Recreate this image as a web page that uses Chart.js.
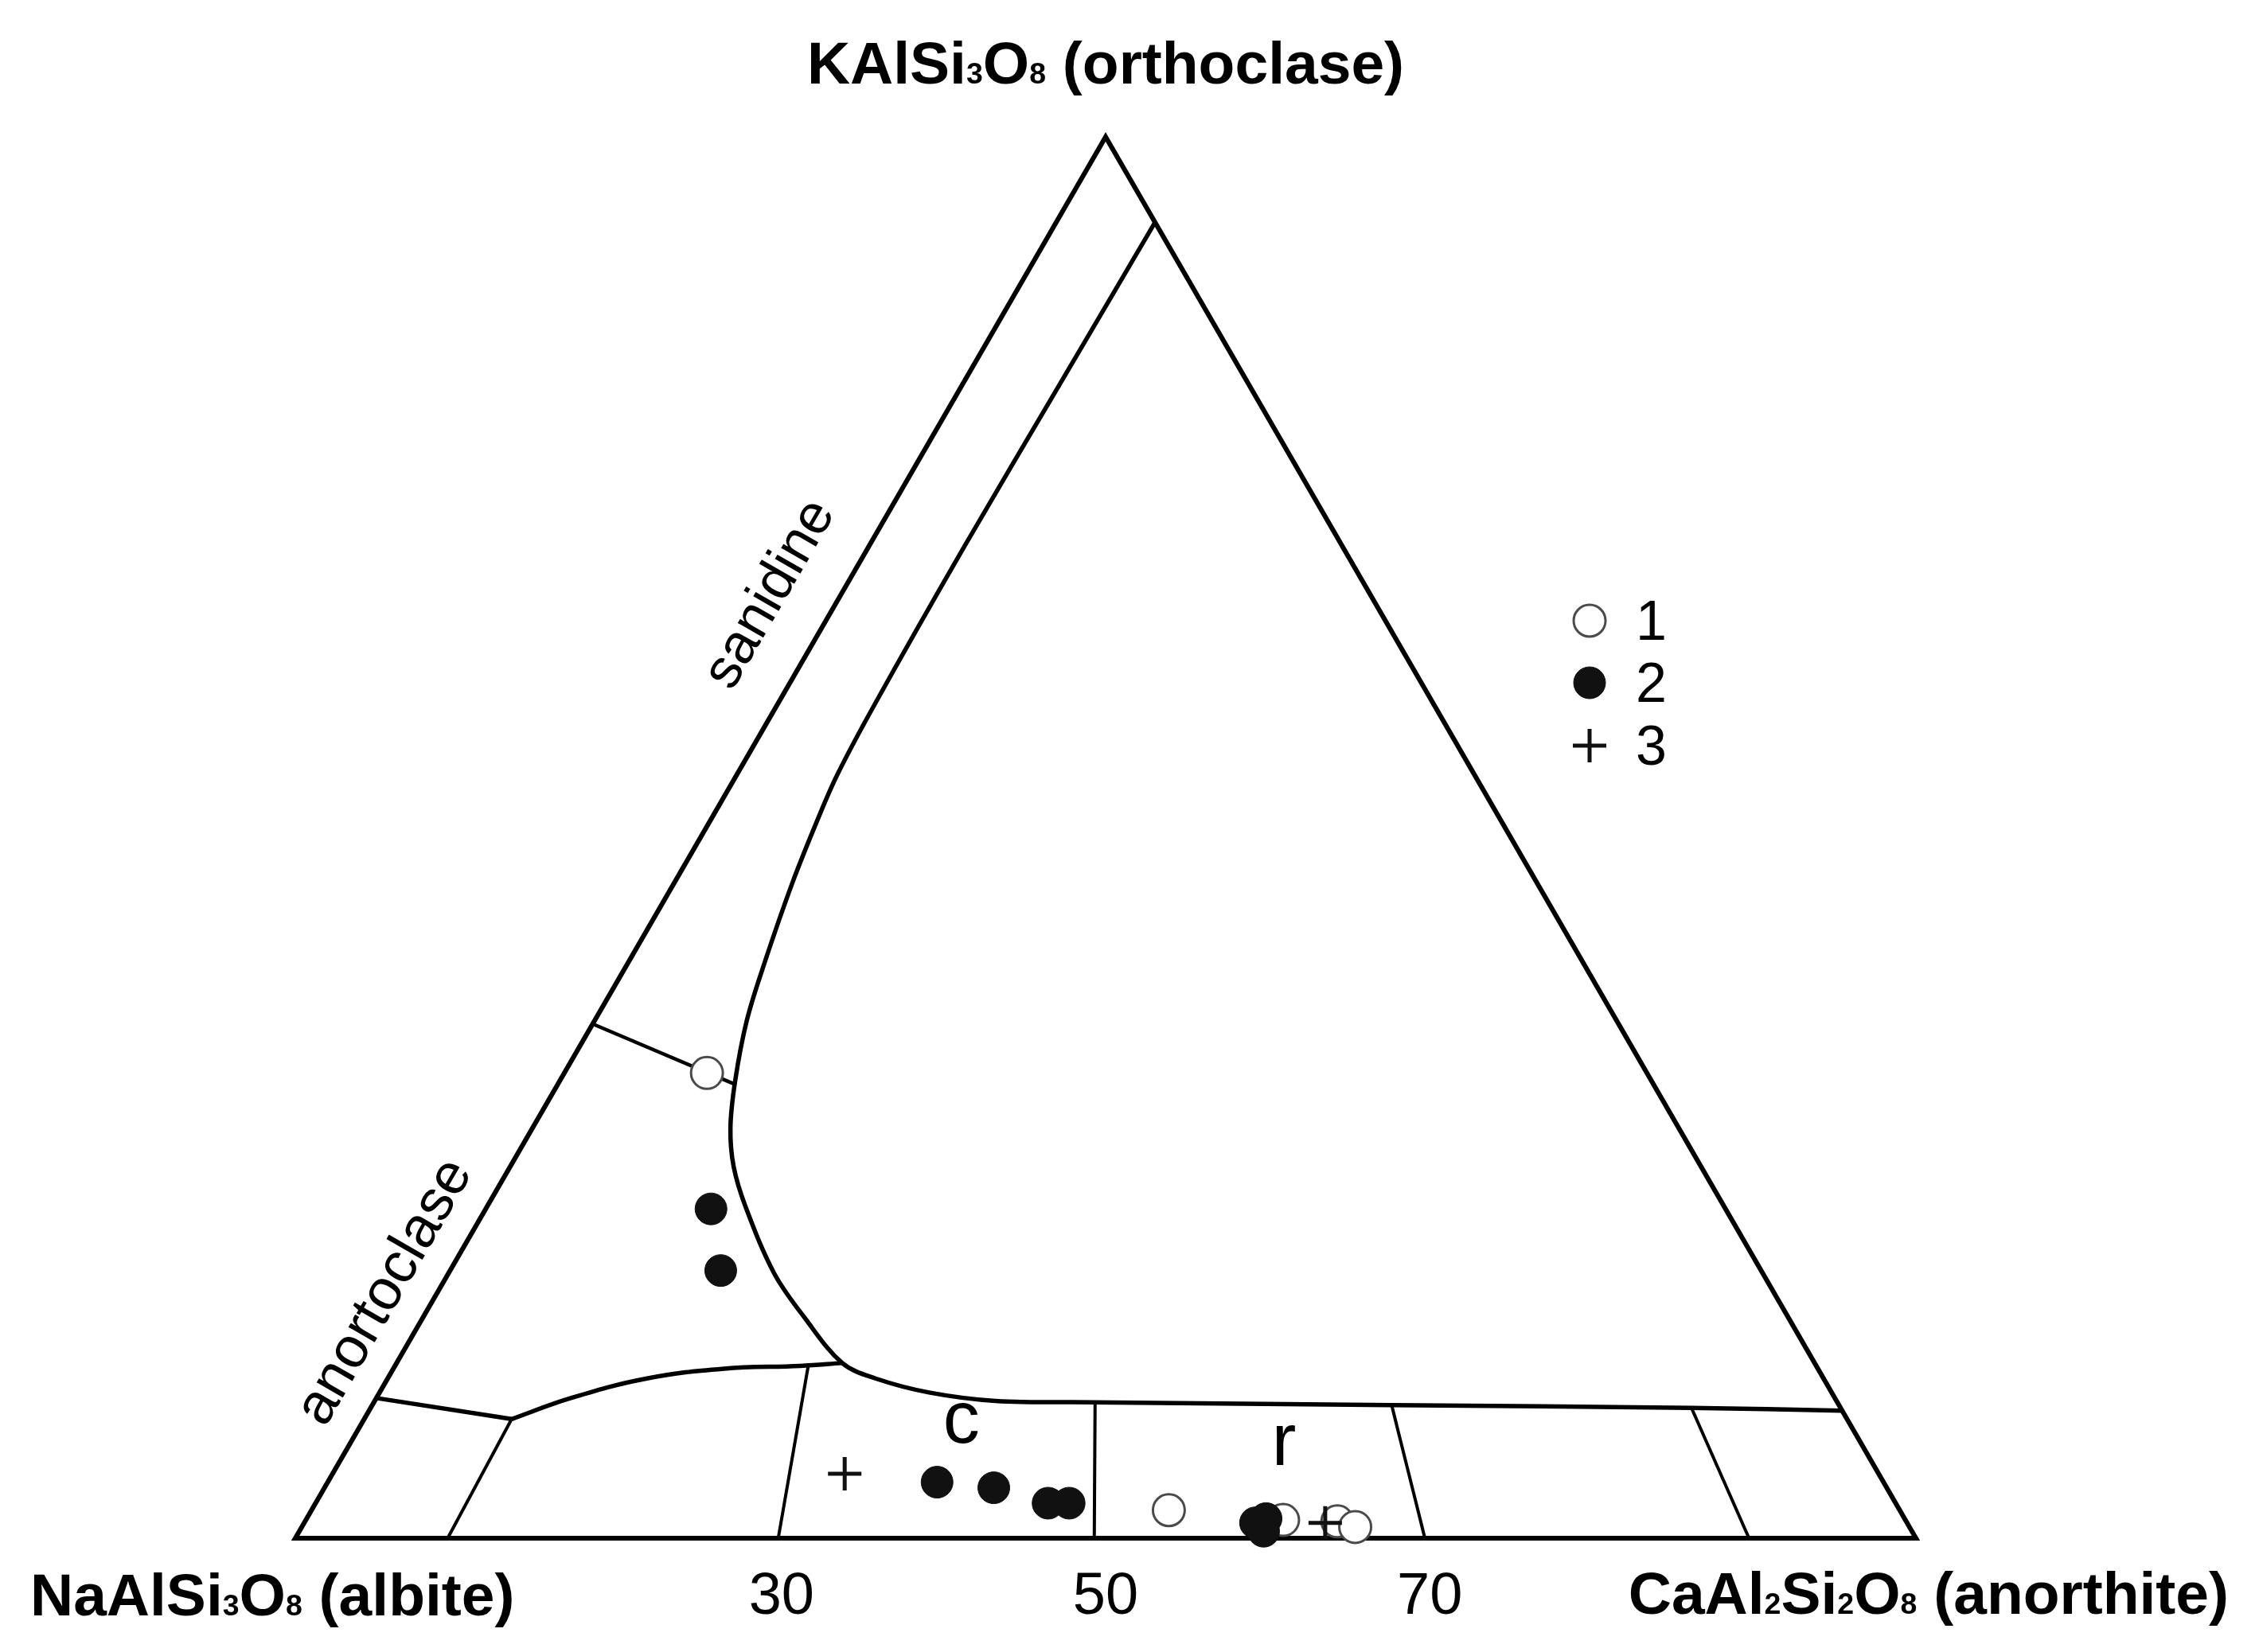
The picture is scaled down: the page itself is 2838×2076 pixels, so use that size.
<!DOCTYPE html>
<html>
<head>
<meta charset="utf-8">
<script src="https://cdn.jsdelivr.net/npm/chart.js@4/dist/chart.umd.min.js"></script>
<style>
  html, body { margin: 0; padding: 0; background: #ffffff; }
  #wrap { width: 2838px; height: 2076px; }
</style>
</head>
<body>
<div id="wrap"><canvas id="chart" width="2838" height="2076"></canvas></div>
<script>
// ---------- DATA (ternary compositions, mol %: An = anorthite, Or = orthoclase, Ab = 100 - An - Or) ----------
const vertexLabels = ['KAlSi₃O₈ (orthoclase)', 'NaAlSi₃O₈ (albite)', 'CaAl₂Si₂O₈ (anorthite)'];
const fieldLabels = ['sanidine', 'anortoclase', 'c', 'r'];
const seriesLabels = ['1', '2', '3'];
const anorthiteTickValues = [30, 50, 70];

// series 1 (open circles)
const s1An = [8.8, 52.9, 60.3, 63.7, 65.0];
const s1Or = [33.2, 2.0, 1.3, 1.2, 0.8];
// series 2 (filled circles)
const s2An = [13.9, 16.7, 37.6, 41.3, 45.2, 46.5, 58.7, 59.2, 59.5];
const s2Or = [23.5, 19.1, 4.0, 3.6, 2.5, 2.5, 1.1, 1.4, 0.5];
// series 3 (crosses)
const s3An = [31.6, 63.0];
const s3Or = [4.6, 1.1];

// triangle frame (Ab, An, Or, Ab, An vertices)
const frameAn = [0, 100, 0, 0, 100];
const frameOr = [0, 0, 100, 0, 0];

// feldspar solvus
const solvusAn = [6.1, 6.0, 5.9, 6.0, 6.2, 6.6, 7.3, 8.5, 9.4, 10.8, 12.2, 13.8, 16.0, 20.1, 23.6, 27.5, 30.1, 33.9, 38.3, 44.4, 62.9, 81.5, 90.9];
const solvusOr = [93.9, 82.5, 70.8, 59.4, 54.5, 51.2, 46.7, 40.7, 36.9, 32.7, 29.3, 26.5, 23.6, 18.9, 15.7, 12.5, 11.4, 10.4, 9.8, 9.7, 9.5, 9.3, 9.1];

// sanidine / anorthoclase boundary
const sanAnoAn = [0, 10.9];
const sanAnoOr = [36.7, 32.4];

// anorthoclase / plagioclase boundary (straight part, then curve)
const anoPlagLineAn = [0, 9.1];
const anoPlagLineOr = [10.0, 8.5];
const anoPlagCurveAn = [9.1, 12.0, 16.0, 20.4, 25.0, 27.5];
const anoPlagCurveOr = [8.5, 10.0, 11.4, 12.1, 12.3, 12.5];

// plagioclase divisions (base on Ab-An join, top on boundary)
const divBaseAn = [9.4, 29.8, 49.3, 69.7, 89.7];
const divTopAn = [9.1, 25.5, 44.5, 62.9, 81.5];
const divTopOr = [8.5, 12.3, 9.7, 9.5, 9.3];

// ---------- helpers ----------
const FONT = '"Liberation Sans", Arial, Helvetica, sans-serif';
const H = Math.sqrt(3) / 2;
function toXY(an, or) { return { x: an + or / 2, y: or * H }; }
function pts(anArr, orArr) { return anArr.map((a, i) => toXY(a, orArr[i])); }

function lineSet(data, width, tension) {
  return {
    type: 'scatter', data, showLine: true, borderColor: '#000', borderWidth: width,
    pointRadius: 0, tension: tension || 0, borderJoinStyle: 'miter', borderCapStyle: 'butt',
    clip: false, order: 10
  };
}

const datasets = [];
datasets.push({
  label: seriesLabels[2], type: 'scatter', data: pts(s3An, s3Or), showLine: false,
  pointStyle: 'cross', pointRadius: 21, pointBorderWidth: 5, pointBorderColor: '#111',
  pointBackgroundColor: '#111', clip: false, order: 1
});
datasets.push({
  label: seriesLabels[1], type: 'scatter', data: pts(s2An, s2Or), showLine: false,
  pointStyle: 'circle', pointRadius: 20, pointBorderWidth: 1, pointBorderColor: '#111',
  pointBackgroundColor: '#111', clip: false, order: 2
});
datasets.push({
  label: seriesLabels[0], type: 'scatter', data: pts(s1An, s1Or), showLine: false,
  pointStyle: 'circle', pointRadius: 20, pointBorderWidth: 3, pointBorderColor: '#4a4a4a',
  pointBackgroundColor: '#fff', clip: false, order: 3
});
datasets.push(lineSet(pts(frameAn, frameOr), 6, 0));
datasets.push(lineSet(pts(solvusAn, solvusOr), 5.5, 0.35));
datasets.push(lineSet(pts(sanAnoAn, sanAnoOr), 4.5, 0));
datasets.push(lineSet(pts(anoPlagLineAn, anoPlagLineOr), 5.5, 0));
datasets.push(lineSet(pts(anoPlagCurveAn, anoPlagCurveOr), 5.5, 0.4));
divBaseAn.forEach((b, i) => {
  datasets.push(lineSet([toXY(b, 0), toXY(divTopAn[i], divTopOr[i])], 4, 0));
});

const SUB = '₀₁₂₃₄₅₆₇₈₉';
function richRuns(text) {
  const runs = [];
  for (const ch of text) {
    const k = SUB.indexOf(ch);
    const sub = k >= 0;
    const c = sub ? String(k) : ch;
    if (runs.length && runs[runs.length - 1].sub === sub) runs[runs.length - 1].t += c;
    else runs.push({ t: c, sub });
  }
  return runs;
}
function drawRich(ctx, text, x, y, size, weight, align) {
  const runs = richRuns(text);
  const subSize = size * 0.5;
  let total = 0;
  runs.forEach(r => {
    ctx.font = `${weight} ${r.sub ? subSize : size}px ${FONT}`;
    r.w = ctx.measureText(r.t).width; total += r.w;
  });
  let cx = align === 'center' ? x - total / 2 : align === 'right' ? x - total : x;
  ctx.textAlign = 'left'; ctx.textBaseline = 'alphabetic';
  runs.forEach(r => {
    ctx.font = `${weight} ${r.sub ? subSize : size}px ${FONT}`;
    ctx.fillText(r.t, cx, y); cx += r.w;
  });
}

const annotatePlugin = {
  id: 'annotate',
  afterDraw(chart) {
    const ctx = chart.ctx, xs = chart.scales.x, ys = chart.scales.y, ca = chart.chartArea;
    const px = (an, or) => { const p = toXY(an, or); return [xs.getPixelForValue(p.x), ys.getPixelForValue(p.y)]; };
    ctx.save();
    ctx.fillStyle = '#000';
    // vertex labels
    drawRich(ctx, vertexLabels[0], xs.getPixelForValue(50), ca.top - 67, 75, 'bold', 'center');
    drawRich(ctx, vertexLabels[1], 38, ca.bottom + 97, 75, 'bold', 'left');
    drawRich(ctx, vertexLabels[2], 2800, ca.bottom + 95, 75, 'bold', 'right');
    // rotated field labels along the Ab-Or edge
    const rot = (txt, cx, cy, size) => {
      ctx.save(); ctx.translate(cx, cy); ctx.rotate(-Math.PI / 3);
      ctx.font = `normal ${size}px ${FONT}`; ctx.textAlign = 'center'; ctx.textBaseline = 'middle';
      ctx.fillText(txt, 0, 0); ctx.restore();
    };
    rot(fieldLabels[0], 968, 747, 70);
    rot(fieldLabels[1], 484, 1624, 72);
    // region labels c, r
    ctx.font = `normal 92px ${FONT}`; ctx.textAlign = 'center'; ctx.textBaseline = 'alphabetic';
    let p = px(37.7, 6.8); ctx.fillText(fieldLabels[2], p[0], p[1]);
    p = px(58.4, 5.2); ctx.fillText(fieldLabels[3], p[0], p[1]);
    // legend
    const legendOrder = [2, 1, 0]; // dataset indices for series 1, 2, 3
    const ly = [780, 858, 937];
    legendOrder.forEach((di, i) => {
      const ds = chart.data.datasets[di];
      ctx.save();
      ctx.fillStyle = ds.pointBackgroundColor; ctx.strokeStyle = ds.pointBorderColor;
      ctx.lineWidth = ds.pointBorderWidth;
      Chart.helpers.drawPoint(ctx, { pointStyle: ds.pointStyle, radius: ds.pointRadius, rotation: 0, borderWidth: ds.pointBorderWidth }, 1997, ly[i]);
      ctx.restore();
      ctx.fillStyle = '#000';
      ctx.font = `normal 70px ${FONT}`; ctx.textAlign = 'left'; ctx.textBaseline = 'alphabetic';
      ctx.fillText(ds.label, 2055, ly[i] + 24);
    });
    ctx.restore();
  }
};

new Chart(document.getElementById('chart'), {
  type: 'scatter',
  data: { datasets },
  options: {
    responsive: false, animation: false, devicePixelRatio: 1, events: [],
    layout: { padding: { left: 371, right: 431, top: 172, bottom: 0 } },
    plugins: { legend: { display: false }, tooltip: { enabled: false }, title: { display: false } },
    scales: {
      x: {
        type: 'linear', min: 0, max: 100, position: 'bottom',
        grid: { display: false, drawTicks: false }, border: { display: false },
        afterBuildTicks: s => { s.ticks = anorthiteTickValues.map(v => ({ value: v })); },
        afterFit: s => { s.height = 143; },
        ticks: { padding: 30, autoSkip: false, maxRotation: 0, color: '#000',
                 font: { family: FONT, size: 74 }, callback: v => String(v) }
      },
      y: { type: 'linear', min: 0, max: 100 * H, display: false }
    }
  },
  plugins: [annotatePlugin]
});
</script>
</body>
</html>
